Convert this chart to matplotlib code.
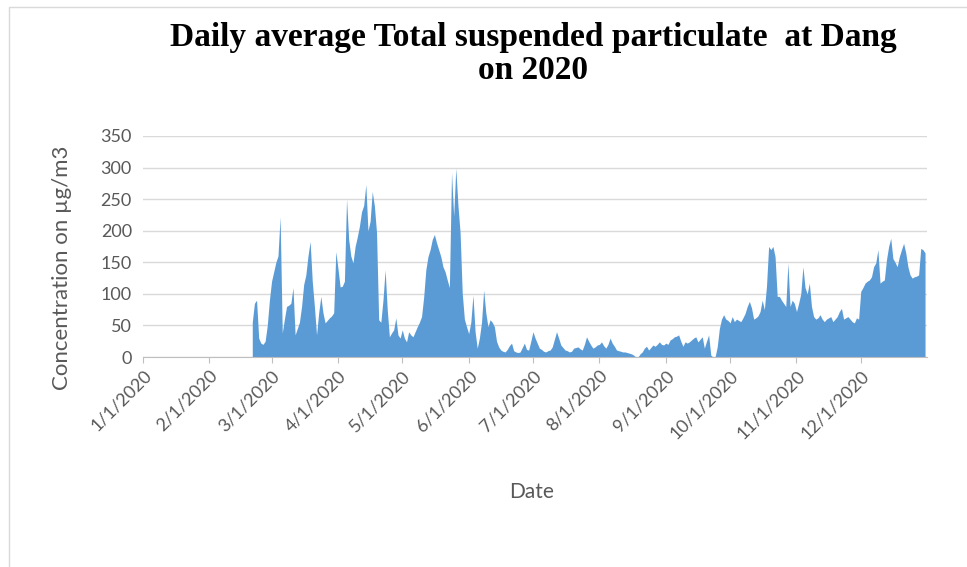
import datetime as dt
import pandas as pd
import matplotlib
matplotlib.use("Agg")
import matplotlib.pyplot as plt
import matplotlib.dates as mdates
from matplotlib.patches import Rectangle

# daily TSP values (ug/m3); first reading on 2/21/2020
start_date = "2020-02-21"
feb_tsp = [55, 85, 90, 30, 22, 20, 25, 50, 90]
mar_tsp = [120, 135, 150, 160, 222, 38, 60, 80, 82, 85, 110, 35, 45, 55, 80, 115,
           130, 160, 183, 120, 80, 35, 70, 96, 70, 54, 58, 62, 65, 70, 167]
apr_tsp = [140, 111, 112, 120, 250, 186, 160, 149, 175, 190, 207, 230, 240, 273, 200,
           215, 262, 239, 197, 59, 55, 90, 138, 75, 32, 38, 43, 62, 35, 30]
may_tsp = [43, 30, 24, 40, 35, 32, 40, 48, 55, 64, 95, 138, 159, 170, 186, 194,
           181, 170, 159, 143, 135, 122, 110, 292, 223, 299, 240, 197, 101, 60, 48]
jun_tsp = [37, 55, 98, 40, 14, 30, 55, 106, 70, 48, 59, 55, 48, 25, 16, 11, 9, 8,
           12, 18, 22, 10, 8, 7, 8, 15, 22, 12, 11, 25]
jul_tsp = [40, 30, 22, 14, 12, 9, 8, 10, 11, 16, 28, 40, 30, 19, 15, 11, 10, 8, 9,
           14, 15, 16, 13, 11, 20, 32, 25, 19, 14, 16, 19]
aug_tsp = [20, 24, 18, 14, 20, 30, 22, 17, 11, 10, 9, 8, 8, 7, 6, 5, 3, 0, 0, 5,
           8, 14, 17, 11, 15, 19, 17, 20, 24, 20, 19]
sep_tsp = [22, 20, 27, 29, 32, 33, 35, 25, 17, 24, 22, 24, 27, 30, 32, 24, 28, 32,
           14, 25, 35, 3, 0, 0, 16, 45, 60, 67, 60, 58]
oct_tsp = [54, 64, 56, 60, 58, 56, 62, 69, 80, 88, 78, 60, 62, 65, 72, 90, 75, 112,
           175, 170, 175, 159, 96, 96, 90, 85, 80, 149, 80, 90, 85]
nov_tsp = [72, 85, 100, 143, 110, 100, 117, 80, 64, 60, 62, 67, 60, 56, 60, 62, 64,
           56, 60, 64, 72, 77, 60, 62, 64, 60, 56, 54, 62, 60]
dec_tsp = [104, 110, 117, 120, 122, 127, 143, 149, 170, 117, 120, 122, 154, 175, 188,
           156, 150, 143, 159, 170, 180, 165, 143, 130, 125, 127, 128, 130, 172, 170, 165]

tsp = (feb_tsp + mar_tsp + apr_tsp + may_tsp + jun_tsp + jul_tsp + aug_tsp
       + sep_tsp + oct_tsp + nov_tsp + dec_tsp)
dates = pd.date_range(start_date, periods=len(tsp), freq="D")

gray = "#595959"
fig = plt.figure(figsize=(9.67, 5.67), dpi=100)
ax = fig.add_axes([143 / 967, 1 - 357 / 567, 784 / 967, 221 / 567])

ax.fill_between(dates, tsp, 0, color="#5B9BD5", linewidth=0)

ax.set_ylim(0, 350)
ax.set_yticks(range(0, 351, 50))
ax.set_xlim(dt.datetime(2020, 1, 1), dt.datetime(2020, 12, 31, 22))
ax.xaxis.set_major_locator(mdates.MonthLocator())
ax.xaxis.set_major_formatter(
    plt.FuncFormatter(lambda v, p: "%d/1/2020" % mdates.num2date(v).month))

ax.grid(axis="y", color="#D9D9D9", linewidth=1)
ax.set_axisbelow(True)
for s in ["top", "right", "left"]:
    ax.spines[s].set_visible(False)
ax.spines["bottom"].set_color("#BFBFBF")
ax.tick_params(axis="y", length=0, labelsize=13, labelcolor=gray, pad=8)
ax.tick_params(axis="x", length=4, color="#BFBFBF", labelsize=13, labelcolor=gray)
for lab in ax.get_yticklabels() + ax.get_xticklabels():
    lab.set_fontfamily("Lato")
for lab in ax.get_xticklabels():
    lab.set_rotation(45)
    lab.set_ha("right")
    lab.set_rotation_mode("anchor")

fig.text(533 / 967, 1 - 54 / 567, "Daily average Total suspended particulate  at Dang\non 2020",
         ha="center", va="center", fontsize=24, fontweight="bold",
         family="Liberation Serif", linespacing=1.05)
fig.text(62 / 967, 1 - 268 / 567, "Concentration on µg/m3", rotation=90,
         ha="center", va="center", fontsize=16, color=gray, family="Lato")
fig.text(532 / 967, 1 - 492 / 567, "Date", ha="center", va="center",
         fontsize=15, color=gray, family="Lato")

fig.patches.append(Rectangle((9 / 967, -0.05), 1.1, 1.05 - 7 / 567,
                             transform=fig.transFigure, fill=False,
                             edgecolor="#D9D9D9", linewidth=1))

fig.savefig("out.png", dpi=100)
